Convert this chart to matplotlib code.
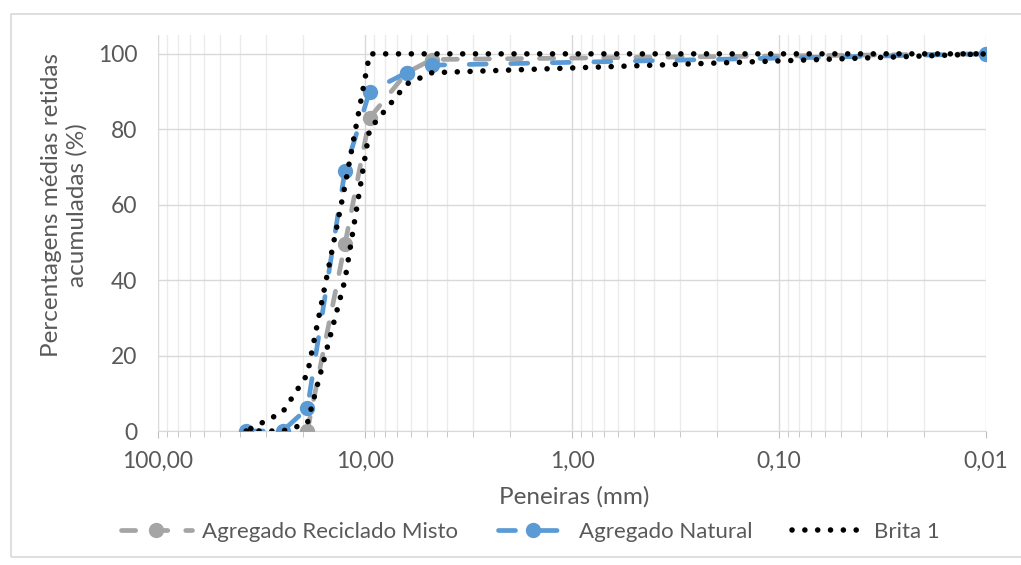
import matplotlib.pyplot as plt
from matplotlib.patches import Rectangle
from matplotlib.ticker import LogLocator, NullFormatter

plt.rcParams['font.family'] = ['Lato', 'DejaVu Sans']

# sieve openings (mm) and cumulative retained (%)
reciclado_sieves = [19.0, 12.5, 9.5, 6.3, 4.75, 0.01]
reciclado_pct = [0, 49.5, 83, 95, 98.5, 100]

natural_sieves = [37.5, 25.0, 19.0, 12.5, 9.5, 6.3, 4.75, 0.01]
natural_pct = [0, 0, 6, 69, 90, 95, 97, 100]

# Brita 1 grading zone, drawn as one closed path (lower limit out, upper limit back)
brita_lower_sieves = [37.5, 25.0, 19.0, 12.5, 9.5, 6.3, 4.75, 0.01]
brita_lower_pct = [0, 0, 2, 40, 80, 92, 95, 100]
brita_upper_sieves = [0.01, 4.75, 6.3, 9.5, 12.5, 19.0, 25.0, 37.5]
brita_upper_pct = [100, 100, 100, 100, 65, 15, 5, 0]

x_ticks = [100, 10, 1, 0.1, 0.01]
x_tick_labels = ['100,00', '10,00', '1,00', '0,10', '0,01']
y_ticks = [0, 20, 40, 60, 80, 100]

TEXT = '#595959'
GRID = '#d9d9d9'

fig = plt.figure(figsize=(10.21, 5.65), dpi=100)
ax = fig.add_axes([158 / 1021, 1 - 431 / 565, (986 - 158) / 1021, (431 - 35) / 565])

# chart border
fig.patches.append(Rectangle((11 / 1021, 1 - 557 / 565), 1.0, (557 - 14) / 565,
                             transform=fig.transFigure, fill=False,
                             edgecolor=GRID, lw=1.2))

ax.plot(reciclado_sieves, reciclado_pct, color='#a5a5a5', lw=3.4,
        ls=(0, (3.0, 3.8)), dash_capstyle='round', marker='o', ms=10,
        label='Agregado Reciclado Misto', zorder=3)
ax.plot(natural_sieves, natural_pct, color='#5b9bd5', lw=3.4,
        ls=(0, (3.6, 5.2)), dash_capstyle='round', marker='o', ms=10,
        label='Agregado Natural', zorder=4)
ax.plot(brita_lower_sieves + brita_upper_sieves, brita_lower_pct + brita_upper_pct,
        color='black', lw=4.0, ls=(0, (0.01, 2.3)), dash_capstyle='round',
        label='Brita 1', zorder=5)

ax.set_xscale('log')
ax.set_xlim(100, 0.01)
ax.set_ylim(0, 105)
ax.set_xticks(x_ticks)
ax.set_xticklabels(x_tick_labels)
ax.xaxis.set_minor_locator(LogLocator(base=10, subs=range(2, 10)))
ax.xaxis.set_minor_formatter(NullFormatter())
ax.set_yticks(y_ticks)

ax.grid(which='major', color=GRID, lw=1, zorder=0)
ax.grid(which='minor', axis='x', color='#ebebeb', lw=1, zorder=0)
ax.set_axisbelow(True)

for side in ['top', 'right', 'left']:
    ax.spines[side].set_visible(False)
ax.spines['bottom'].set_color(GRID)

ax.tick_params(axis='x', which='major', length=5, color='#bfbfbf', labelcolor=TEXT,
               labelsize=16.5, pad=9)
ax.tick_params(axis='x', which='minor', length=4, color='#bfbfbf')
ax.tick_params(axis='y', length=0, labelcolor=TEXT, labelsize=16.5, pad=15)

fig.text(574 / 1021, 1 - 497 / 565, 'Peneiras (mm)', ha='center', va='center',
         color=TEXT, fontsize=17.5)
fig.text(64 / 1021, 1 - 205 / 565, 'Percentagens médias retidas\nacumuladas (%)',
         rotation=90, ha='center', va='center', ma='center', color=TEXT,
         fontsize=17.5, linespacing=1.25)

fig.legend(loc='center', bbox_to_anchor=(530 / 1021, 1 - 532 / 565), ncol=3,
           frameon=False, handlelength=3.2, handletextpad=0.45, columnspacing=1.8,
           fontsize=16, labelcolor=TEXT)

fig.savefig('out.png', dpi=100)
